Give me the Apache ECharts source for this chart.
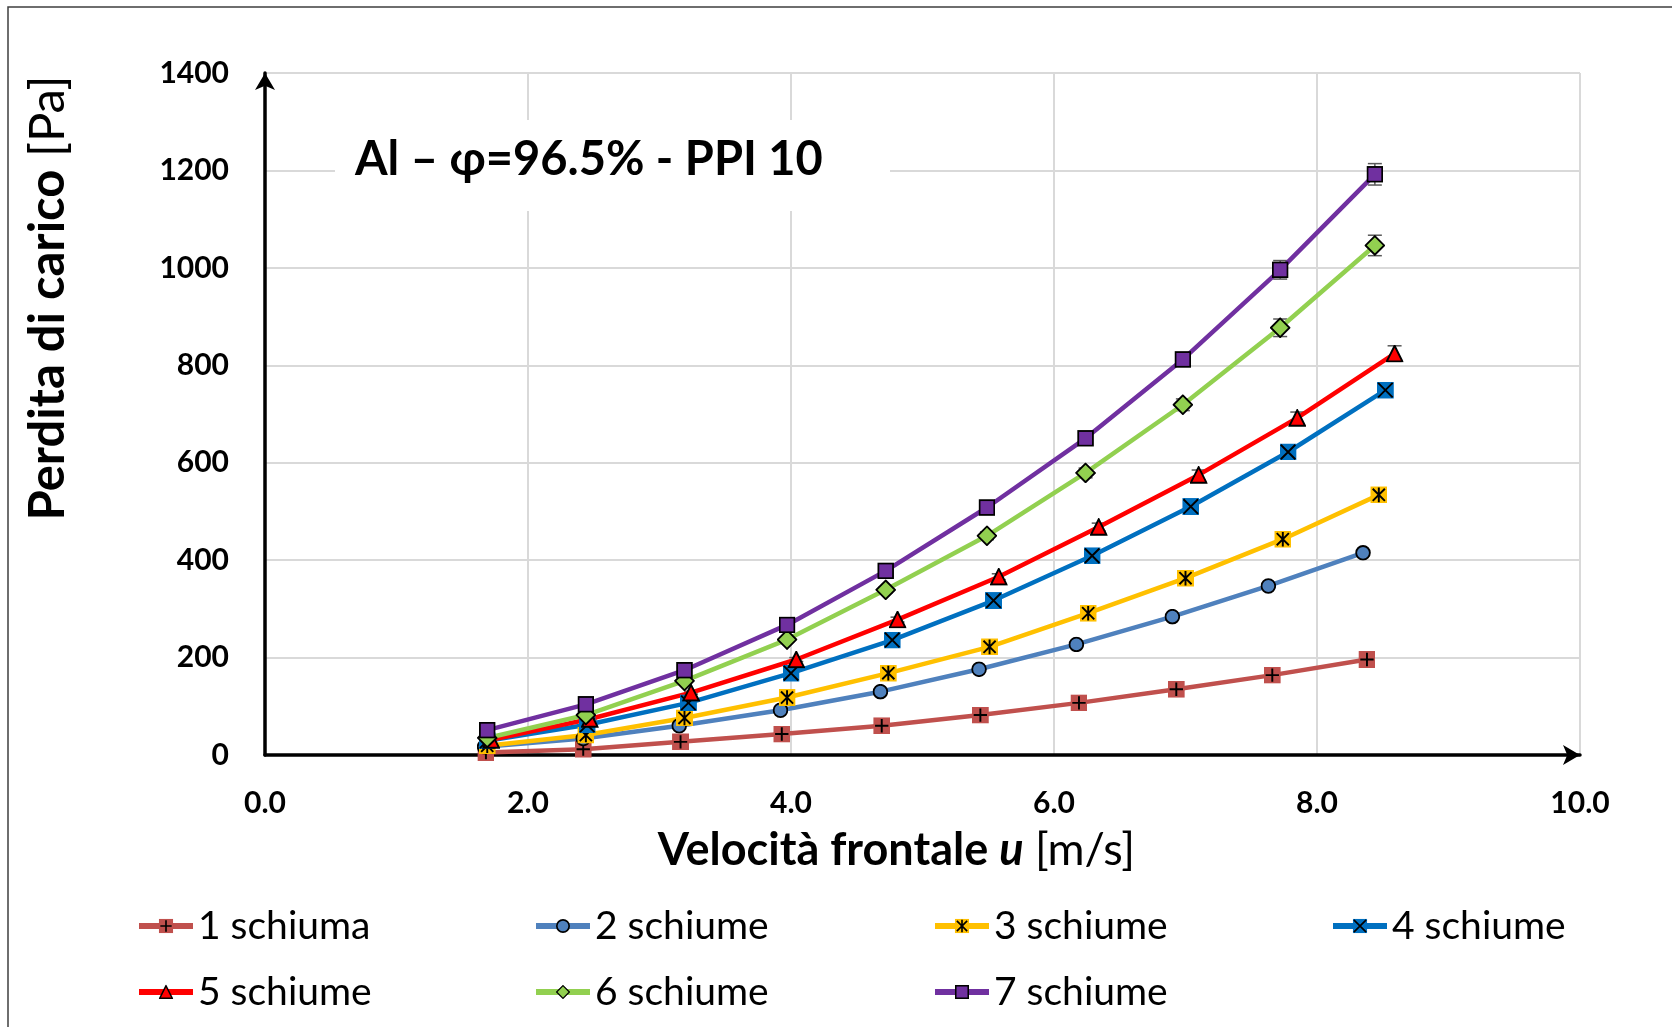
<!DOCTYPE html>
<html lang="it">
<head>
<meta charset="UTF-8">
<title>Perdita di carico - Al PPI 10</title>
<script src="https://cdn.jsdelivr.net/npm/echarts@6/dist/echarts.min.js"></script>
<style>
  html, body { margin: 0; padding: 0; background: #fff; }
  #main { width: 1672px; height: 1027px; }
</style>
</head>
<body>
<div id="main"></div>
<script>
// dati: velocita frontale [m/s], perdita di carico [Pa]
var nomi = ['1 schiuma', '2 schiume', '3 schiume', '4 schiume', '5 schiume', '6 schiume', '7 schiume'];

var u1 = [1.68, 2.42, 3.16, 3.93, 4.69, 5.44, 6.19, 6.93, 7.66, 8.38];
var dp1 = [5, 12, 27, 43, 60, 82, 107, 135, 164, 196];
var u2 = [1.67, 2.42, 3.15, 3.92, 4.68, 5.43, 6.17, 6.90, 7.63, 8.35];
var dp2 = [17, 34, 60, 92, 130, 176, 227, 284, 347, 415];
var u3 = [1.69, 2.44, 3.19, 3.97, 4.74, 5.51, 6.26, 7.00, 7.74, 8.47];
var dp3 = [19, 41, 76, 118, 168, 222, 291, 363, 443, 534];
var u4 = [1.69, 2.45, 3.22, 4.00, 4.77, 5.54, 6.29, 7.04, 7.78, 8.52];
var dp4 = [29, 62, 107, 168, 236, 317, 409, 510, 622, 749];
var u5 = [1.72, 2.47, 3.24, 4.04, 4.81, 5.58, 6.34, 7.10, 7.85, 8.59];
var dp5 = [31, 74, 128, 196, 278, 366, 468, 575, 692, 824];
var u6 = [1.69, 2.44, 3.19, 3.97, 4.72, 5.49, 6.24, 6.98, 7.72, 8.44];
var dp6 = [35, 82, 152, 237, 339, 450, 579, 719, 877, 1046];
var u7 = [1.69, 2.44, 3.19, 3.97, 4.72, 5.49, 6.24, 6.98, 7.72, 8.44];
var dp7 = [51, 104, 174, 267, 378, 508, 650, 812, 996, 1192];

// barre di errore (+/- Pa)
var err5 = [1, 2, 3, 4, 5, 6, 8, 10, 12, 16];
var err6 = [2, 3, 4, 5, 6, 8, 10, 12, 18, 21];
var err7 = [2, 3, 4, 5, 6, 8, 10, 12, 19, 22];

var colori = ['#C0504D', '#4F81BD', '#FFC000', '#0070C0', '#FF0000', '#92D050', '#7030A0'];
var FONT = 'Lato, "Noto Sans", sans-serif';

// marker stile excel come svg
function svgSimbolo(corpo, s) {
  var svg = '<svg xmlns="http://www.w3.org/2000/svg" width="' + s + '" height="' + s +
    '" viewBox="0 0 ' + s + ' ' + s + '">' + corpo + '</svg>';
  return 'image://data:image/svg+xml;charset=utf-8,' + encodeURIComponent(svg);
}
var nero = 'stroke="#000" stroke-width="1.6"';
var simboli = [
  svgSimbolo('<rect x="0" y="0" width="14" height="14" fill="' + colori[0] + '"/><path d="M7 1.5V12.5M1.5 7H12.5" ' + nero + ' fill="none"/>', 14),
  svgSimbolo('<circle cx="7" cy="7" r="6" fill="' + colori[1] + '" ' + nero + '/>', 14),
  svgSimbolo('<rect x="0" y="0" width="14" height="14" fill="' + colori[2] + '"/><path d="M7 1V13M2 2L12 12M12 2L2 12" ' + nero + ' fill="none"/>', 14),
  svgSimbolo('<rect x="0" y="0" width="14" height="14" fill="' + colori[3] + '"/><path d="M1 1L13 13M13 1L1 13" ' + nero + ' fill="none"/>', 14),
  svgSimbolo('<path d="M7.5 1L14 14H1Z" fill="' + colori[4] + '" ' + nero + '/>', 15),
  svgSimbolo('<path d="M9 1L17 9L9 17L1 9Z" fill="' + colori[5] + '" ' + nero + '/>', 18),
  svgSimbolo('<rect x="1" y="1" width="13" height="13" fill="' + colori[6] + '" ' + nero + '/>', 15)
];
var dimSimboli = [17, 16, 17, 17, 18, 21, 17];

function coppie(u, dp) {
  return u.map(function (v, k) { return [v, dp[k]]; });
}

function serie(i, u, dp) {
  return {
    name: nomi[i],
    type: 'line',
    data: coppie(u, dp),
    symbol: simboli[i],
    symbolSize: dimSimboli[i],
    showAllSymbol: true,
    lineStyle: { color: colori[i], width: 4.5 },
    itemStyle: { color: colori[i] },
    z: 3
  };
}

function barreErrore(u, dp, err) {
  return {
    type: 'custom',
    silent: true,
    z: 2,
    data: u.map(function (v, k) { return [v, dp[k], err[k]]; }),
    renderItem: function (params, api) {
      var x = api.value(0), y = api.value(1), e = api.value(2);
      var a = api.coord([x, y + e]);
      var b = api.coord([x, y - e]);
      var w = 7;
      var st = { stroke: '#595959', lineWidth: 1.5 };
      return {
        type: 'group',
        children: [
          { type: 'line', shape: { x1: a[0], y1: a[1], x2: b[0], y2: b[1] }, style: st },
          { type: 'line', shape: { x1: a[0] - w, y1: a[1], x2: a[0] + w, y2: a[1] }, style: st },
          { type: 'line', shape: { x1: b[0] - w, y1: b[1], x2: b[0] + w, y2: b[1] }, style: st }
        ]
      };
    }
  };
}

var colonneLegenda = [[nomi[0], nomi[4]], [nomi[1], nomi[5]], [nomi[2], nomi[6]], [nomi[3]]];
var xLegenda = [136, 533, 932, 1330];

var myChart = echarts.init(document.getElementById('main'));
var option = {
  animation: false,
  backgroundColor: '#fff',
  grid: { left: 265, right: 92, top: 73, bottom: 272, outerBoundsMode: 'none' },
  graphic: [
    // bordo dell'area grafico
    { type: 'rect', shape: { x: 8, y: 7, width: 1700, height: 1100 }, style: { fill: 'none', stroke: '#3f3f3f', lineWidth: 1.5 }, silent: true },
    // riquadro titolo
    { type: 'rect', z: 1, shape: { x: 335, y: 120, width: 555, height: 91 }, style: { fill: '#fff' }, silent: true },
    { type: 'text', z: 1, x: 355, y: 160, style: { text: 'Al – φ=96.5% - PPI 10', font: 'bold 47px ' + FONT, fill: '#000', textVerticalAlign: 'middle' }, silent: true }
  ],
  legend: colonneLegenda.map(function (d, i) {
    return {
      data: d,
      orient: 'vertical',
      left: xLegenda[i],
      top: 906,
      padding: 0,
      itemWidth: 54,
      itemHeight: 18,
      itemGap: 26,
      selectedMode: false,
      lineStyle: { width: 6 },
      textStyle: { fontFamily: FONT, fontSize: 39, color: '#000', lineHeight: 40 }
    };
  }),
  xAxis: {
    type: 'value',
    min: 0,
    max: 10,
    interval: 2,
    name: '{b|Velocità frontale }{bi|u}{n| [m/s]}',
    nameLocation: 'middle',
    nameGap: 73,
    nameTextStyle: {
      fontFamily: FONT, fontSize: 45, color: '#000', padding: [0, 52, 0, 0],
      rich: {
        b: { fontFamily: FONT, fontSize: 45, fontWeight: 'bold', color: '#000' },
        bi: { fontFamily: FONT, fontSize: 45, fontWeight: 'bold', fontStyle: 'italic', color: '#000' },
        n: { fontFamily: FONT, fontSize: 45, fontWeight: 'normal', color: '#000' }
      }
    },
    axisLine: { lineStyle: { color: '#000', width: 3.5 }, symbol: ['none', 'arrow'], symbolSize: [15, 17] },
    axisTick: { show: false },
    axisLabel: {
      margin: 33, fontFamily: FONT, fontSize: 30, fontWeight: 'bold', color: '#000',
      formatter: function (v) { return v.toFixed(1); }
    },
    splitLine: { show: true, lineStyle: { color: '#d9d9d9', width: 2 } }
  },
  yAxis: {
    type: 'value',
    min: 0,
    max: 1400,
    interval: 200,
    name: '{b|Perdita di carico} {n|[Pa]}',
    nameLocation: 'middle',
    nameGap: 192,
    nameRotate: 90,
    nameTextStyle: {
      fontFamily: FONT, fontSize: 49, color: '#000', padding: [0, 0, 0, 232],
      rich: {
        b: { fontFamily: FONT, fontSize: 49, fontWeight: 'bold', color: '#000' },
        n: { fontFamily: FONT, fontSize: 49, fontWeight: 'normal', color: '#000' }
      }
    },
    axisLine: { show: true, lineStyle: { color: '#000', width: 3.5 }, symbol: ['none', 'arrow'], symbolSize: [15, 17] },
    axisTick: { show: false },
    axisLabel: {
      margin: 36, fontFamily: FONT, fontSize: 30, fontWeight: 'bold', color: '#000',
      formatter: function (v) { return String(v); }
    },
    splitLine: { show: true, lineStyle: { color: '#d9d9d9', width: 2 } }
  },
  series: [
    barreErrore(u5, dp5, err5),
    barreErrore(u6, dp6, err6),
    barreErrore(u7, dp7, err7),
    serie(0, u1, dp1),
    serie(1, u2, dp2),
    serie(2, u3, dp3),
    serie(3, u4, dp4),
    serie(4, u5, dp5),
    serie(5, u6, dp6),
    serie(6, u7, dp7)
  ]
};
myChart.setOption(option);
</script>
</body>
</html>
